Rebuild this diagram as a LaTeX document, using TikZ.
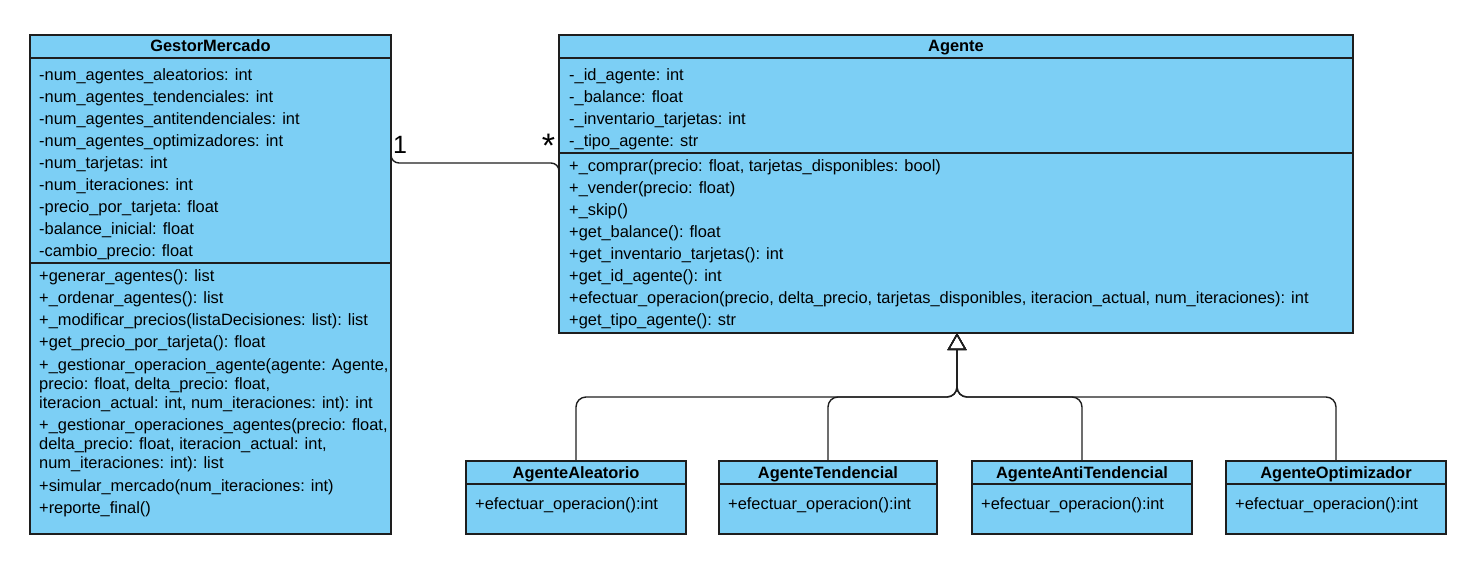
\documentclass[tikz,border=0pt]{standalone}
\usepackage{fontspec}
\setmainfont{Liberation Sans}
\usetikzlibrary{arrows.meta}
\definecolor{umlfill}{RGB}{124,207,245}
\definecolor{umlline}{RGB}{30,30,30}
\begin{document}
\begin{tikzpicture}[x=1pt,y=-1pt,
  box/.style={draw=umlline,fill=umlfill,line width=1.2pt,rectangle,inner sep=0pt,outer sep=0pt,anchor=north west},
  sep/.style={draw=umlline,line width=1.2pt},
  txt/.style={anchor=base west,inner sep=0pt,font=\fontsize{16.4}{22}\selectfont},
  head/.style={anchor=base,inner sep=0pt,font=\fontsize{16.4}{22}\selectfont\bfseries},
  mult/.style={anchor=base,inner sep=0pt,font=\fontsize{25}{28}\selectfont},
  conn/.style={draw=umlline,line width=1.4pt,rounded corners=10pt},
  inh/.style={conn,-{Triangle[open,length=17pt,width=19pt,line width=1.4pt]}}]
\useasboundingbox (0,0) rectangle (1467,568);

% ---------------- GestorMercado ----------------
\node[box,minimum width=361pt,minimum height=499pt] (gm) at (30,35) {};
\draw[sep] (30,58) -- (391,58);
\draw[sep] (30,263) -- (391,263);
\node[head] (gmh) at (210.5,51) {GestorMercado};
\node[txt] (gma1) at (39,80) {-num\_agentes\_aleatorios: int};
\node[txt] (gma2) at (39,102) {-num\_agentes\_tendenciales: int};
\node[txt] (gma3) at (39,124) {-num\_agentes\_antitendenciales: int};
\node[txt] (gma4) at (39,146) {-num\_agentes\_optimizadores: int};
\node[txt] (gma5) at (39,168) {-num\_tarjetas: int};
\node[txt] (gma6) at (39,190) {-num\_iteraciones: int};
\node[txt] (gma7) at (39,212) {-precio\_por\_tarjeta: float};
\node[txt] (gma8) at (39,234) {-balance\_inicial: float};
\node[txt] (gma9) at (39,256) {-cambio\_precio: float};
\node[txt] (gmm1) at (39,281.5) {+generar\_agentes(): list};
\node[txt] (gmm2) at (39,303.5) {+\_ordenar\_agentes(): list};
\node[txt] (gmm3) at (39,325.5) {+\_modificar\_precios(listaDecisiones: list): list};
\node[txt] (gmm4) at (39,347.5) {+get\_precio\_por\_tarjeta(): float};
\node[txt] (gmm5) at (39,370) {+\_gestionar\_operacion\_agente(agente: Agente,};
\node[txt] (gmm5b) at (39,389) {precio: float, delta\_precio: float,};
\node[txt] (gmm5c) at (39,408) {iteracion\_actual: int, num\_iteraciones: int): int};
\node[txt] (gmm6) at (39,430) {+\_gestionar\_operaciones\_agentes(precio: float,};
\node[txt] (gmm6b) at (39,449) {delta\_precio: float, iteracion\_actual: int,};
\node[txt] (gmm6c) at (39,468) {num\_iteraciones: int): list};
\node[txt] (gmm7) at (39,491) {+simular\_mercado(num\_iteraciones: int)};
\node[txt] (gmm8) at (39,513) {+reporte\_final()};

% ---------------- Agente ----------------
\node[box,minimum width=794pt,minimum height=298pt] (ag) at (559,35) {};
\draw[sep] (559,58) -- (1353,58);
\draw[sep] (559,153) -- (1353,153);
\node[head] (agh) at (956,51) {Agente};
\node[txt] (aga1) at (569,80) {-\_id\_agente: int};
\node[txt] (aga2) at (569,102) {-\_balance: float};
\node[txt] (aga3) at (569,124) {-\_inventario\_tarjetas: int};
\node[txt] (aga4) at (569,146) {-\_tipo\_agente: str};
\node[txt] (agm1) at (569,171) {+\_comprar(precio: float, tarjetas\_disponibles: bool)};
\node[txt] (agm2) at (569,193) {+\_vender(precio: float)};
\node[txt] (agm3) at (569,215) {+\_skip()};
\node[txt] (agm4) at (569,237) {+get\_balance(): float};
\node[txt] (agm5) at (569,259) {+get\_inventario\_tarjetas(): int};
\node[txt] (agm6) at (569,281) {+get\_id\_agente(): int};
\node[txt] (agm7) at (569,303) {+efectuar\_operacion(precio, delta\_precio, tarjetas\_disponibles, iteracion\_actual, num\_iteraciones): int};
\node[txt] (agm8) at (569,325) {+get\_tipo\_agente(): str};

% ---------------- Subclasses ----------------
\node[box,minimum width=220pt,minimum height=73pt] (aa) at (466,461) {};
\draw[sep] (466,484) -- (686,484);
\node[head] (aah) at (576,478) {AgenteAleatorio};
\node[txt] (aam) at (475,509) {+efectuar\_operacion():int};

\node[box,minimum width=218pt,minimum height=73pt] (at) at (719,461) {};
\draw[sep] (719,484) -- (937,484);
\node[head] (ath) at (828,478) {AgenteTendencial};
\node[txt] (atm) at (728,509) {+efectuar\_operacion():int};

\node[box,minimum width=220pt,minimum height=73pt] (aat) at (972,461) {};
\draw[sep] (972,484) -- (1192,484);
\node[head] (aath) at (1082,478) {AgenteAntiTendencial};
\node[txt] (aatm) at (981,509) {+efectuar\_operacion():int};

\node[box,minimum width=220pt,minimum height=73pt] (ao) at (1226,461) {};
\draw[sep] (1226,484) -- (1446,484);
\node[head] (aoh) at (1336,478) {AgenteOptimizador};
\node[txt] (aom) at (1235,509) {+efectuar\_operacion():int};

% ---------------- Inheritance ----------------
\coordinate (bus) at (957,397);
\coordinate (agtip) at (957,333);
\draw[inh] (aa.north) |- (bus) -- (agtip);
\draw[inh] (at.north) |- (bus) -- (agtip);
\draw[inh] (aat.north) |- (bus) -- (agtip);
\draw[inh] (ao.north) |- (bus) -- (agtip);

% ---------------- Association ----------------
\coordinate (as1) at (391,155);
\coordinate (as2) at (559,177);
\draw[conn,rounded corners=8pt] (as1) -- ++(0,8) -| (as2);
\node[mult] (m1) at (400,153) {1};
\node[mult,font=\fontsize{34}{36}\selectfont] (m2) at (548.5,157) {*};
\end{tikzpicture}
\end{document}
